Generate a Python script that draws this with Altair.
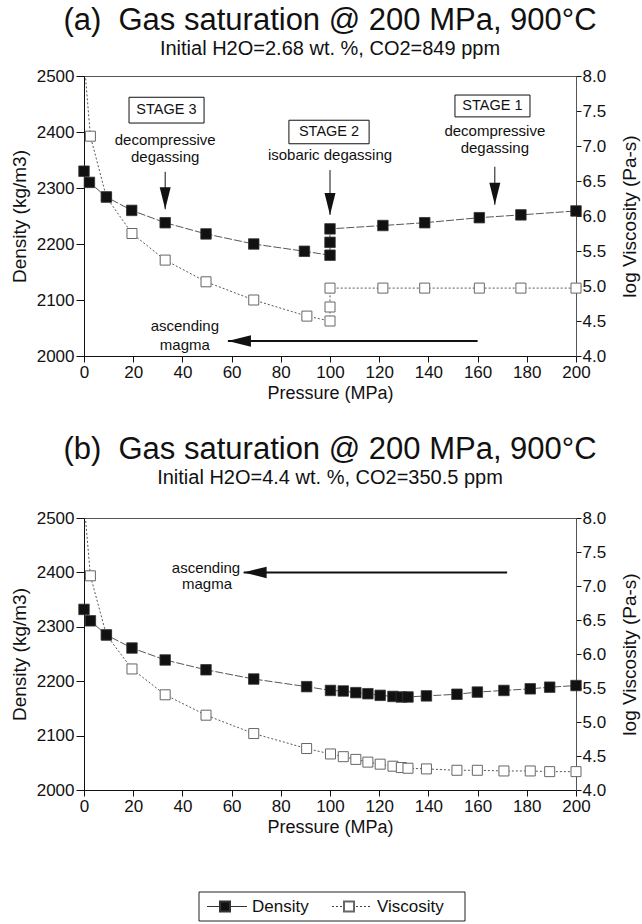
import altair as alt
import pandas as pd

FONT = "Liberation Sans"
INK = "#111111"

# ---------------- data: panel (a) ----------------
a_den_p = [0, 2.2, 9.1, 19.4, 33, 49.6, 69, 89.6, 100, 100, 100, 121.5, 138.5, 160.7, 177.6, 200]
a_den = [2330, 2310, 2284, 2260, 2238, 2218, 2200, 2187, 2180, 2203, 2227, 2233, 2238, 2247, 2252, 2259]
a_vis_p = [0, 2.6, 9.1, 19.5, 33, 49.6, 69, 90.6, 100, 100, 100, 121.5, 138.5, 160.7, 177.6, 200]
a_vis = [8.25, 7.14, 6.27, 5.75, 5.37, 5.06, 4.80, 4.57, 4.50, 4.70, 4.97, 4.97, 4.97, 4.97, 4.97, 4.97]

# ---------------- data: panel (b) ----------------
b_den_p = [0, 2.6, 9.1, 19.5, 33, 49.6, 69, 90.5, 100.2, 105.4, 110.5, 115.4, 120.4, 125.6,
           129, 131.7, 139.2, 151.6, 159.9, 170.7, 181.4, 189.3, 200]
b_den = [2332, 2311, 2285, 2261, 2239, 2221, 2204, 2190, 2183, 2182, 2179, 2177, 2174, 2172,
         2171, 2171, 2173, 2176, 2180, 2183, 2186, 2189, 2192]
b_vis_p = [0, 2.6, 9.1, 19.5, 33, 49.6, 69, 90.5, 100.2, 105.4, 110.5, 115.4, 120.4, 125.6,
           129, 131.7, 139.2, 151.6, 159.9, 170.7, 181.4, 189.3, 200]
b_vis = [8.25, 7.15, 6.28, 5.78, 5.40, 5.10, 4.83, 4.61, 4.53, 4.49, 4.45, 4.41, 4.38, 4.35,
         4.33, 4.32, 4.31, 4.29, 4.29, 4.28, 4.28, 4.27, 4.27]

# ---------------- annotations (in pressure / density units) ----------------
a_boxes = {"text": ["STAGE 3", "STAGE 2", "STAGE 1"],
           "P": [18.3, 83.3, 150.8], "P2": [48.8, 115.9, 181.3],
           "y": [2416, 2379, 2427], "y2": [2462, 2421, 2466],
           "tx": [33.5, 99.6, 166], "ty": [2440, 2400, 2446]}
a_notes = {"text": ["decompressive", "degassing", "isobaric degassing", "decompressive", "degassing",
                    "ascending", "magma"],
           "P": [33, 33, 100, 167, 167, 41, 41],
           "y": [2386, 2355, 2359, 2402, 2371, 2054, 2020]}
a_down = {"P": [33, 100, 167], "y": [2329, 2332, 2338], "y2": [2262, 2252, 2270]}
a_left = {"P": [58.5], "P2": [160], "y": [2027]}

b_notes = {"text": ["ascending", "magma"], "P": [49.6, 50], "y": [2409, 2379]}
b_left = {"P": [64.9], "P2": [172], "y": [2400]}

# legend (pixel units inside a 492-wide strip)
leg_box = {"x": [115], "x2": [381], "y": [24], "y2": [53]}
leg_names = ["Density", "Viscosity"]
leg_line_x = [123, 248]
leg_line_x2 = [163, 288]
leg_sym_x = [141, 265]
leg_text_x = [168, 293]

W = 492
LEG_H = 54

xscale = alt.Scale(domain=[0, 200], nice=False, zero=False)
xaxis = alt.Axis(values=list(range(0, 201, 20)), title="Pressure (MPa)", grid=False,
                 tickSize=6, tickColor=INK, domainColor=INK, labelColor=INK, titleColor=INK,
                 labelFontSize=17, titleFontSize=18, labelPadding=2, titlePadding=4,
                 titleFontWeight="normal", labelFlush=False, labelOverlap=False)
ydaxis = alt.Axis(values=[2000, 2100, 2200, 2300, 2400, 2500], format="d", title="Density (kg/m3)",
                  orient="left", grid=False, tickSize=8, tickColor=INK, domainColor=INK,
                  labelColor=INK, titleColor=INK, labelFontSize=17, titleFontSize=19,
                  labelPadding=2, titlePadding=7, titleFontWeight="normal")
yvaxis = alt.Axis(values=[4.0, 4.5, 5.0, 5.5, 6.0, 6.5, 7.0, 7.5, 8.0], format=".1f",
                  title="log Viscosity (Pa-s)", orient="right", grid=False, tickSize=5,
                  tickColor=INK, domainColor="#555", labelColor=INK, titleColor=INK,
                  labelFontSize=17, titleFontSize=19, labelPadding=1, titlePadding=15,
                  titleAngle=270, titleBaseline="top", titleFontWeight="normal")

X = alt.X("P:Q", scale=xscale, axis=xaxis)
X2 = alt.X2("P2:Q")
YD = alt.Y("y:Q", scale=alt.Scale(domain=[2000, 2500], nice=False, zero=False), axis=ydaxis)
Y2 = alt.Y2("y2:Q")
YV = alt.Y("y:Q", scale=alt.Scale(domain=[4, 8], nice=False, zero=False), axis=yvaxis)

DOWN = "M-0.5,-1L0.5,-1L0,1Z"
LEFT = "M1,-0.5L1,0.5L-1,0Z"


def panel(den_p, den, vis_p, vis, title, subtitle, height, toff, boxes, notes, downs, lefts):
    den_df = pd.DataFrame({"P": den_p, "y": den, "i": list(range(len(den_p)))})
    vis_df = pd.DataFrame({"P": vis_p, "y": vis, "i": list(range(len(vis_p)))})

    vis_line = alt.Chart(vis_df).mark_line(clip=True, color="#444", strokeWidth=0.9,
                                           strokeDash=[2, 2]).encode(x=X, y=YV, order="i:Q")
    vis_pts = alt.Chart(vis_df).transform_filter("datum.y <= 8").mark_square(
        size=100, fill="white", stroke="#666", strokeWidth=1, opacity=1).encode(x=X, y=YV)

    den_line = alt.Chart(den_df).mark_line(color="#444", strokeWidth=0.9,
                                           strokeDash=[8, 2]).encode(x=X, y=YD, order="i:Q")
    den_pts = alt.Chart(den_df).mark_square(size=110, fill=INK, stroke="#333",
                                            strokeWidth=0.8, opacity=1).encode(x=X, y=YD)
    dlayers = [den_line, den_pts]

    if boxes is not None:
        bdf = pd.DataFrame(boxes)
        dlayers.append(alt.Chart(bdf).mark_rect(fill="white", stroke=INK, strokeWidth=1)
                       .encode(x=X, x2=X2, y=YD, y2=Y2))
        tdf = pd.DataFrame({"P": boxes["tx"], "y": boxes["ty"], "text": boxes["text"]})
        dlayers.append(alt.Chart(tdf).mark_text(fontSize=14.5, color=INK, baseline="middle")
                       .encode(x=X, y=YD, text="text:N"))
    ndf = pd.DataFrame(notes)
    dlayers.append(alt.Chart(ndf).mark_text(fontSize=15, color=INK, baseline="middle")
                   .encode(x=X, y=YD, text="text:N"))
    if downs is not None:
        ddf = pd.DataFrame(downs)
        dlayers.append(alt.Chart(ddf).mark_rule(color=INK, strokeWidth=1)
                       .encode(x=X, y=YD, y2=Y2))
        hdf = pd.DataFrame({"P": downs["P"], "y": downs["y2"]})
        dlayers.append(alt.Chart(hdf).mark_point(shape=DOWN, size=484, filled=True, color=INK,
                                                 opacity=1, yOffset=-11).encode(x=X, y=YD))
    ldf = pd.DataFrame(lefts)
    dlayers.append(alt.Chart(ldf).mark_rule(color=INK, strokeWidth=2)
                   .encode(x=X, x2=X2, y=YD))
    dlayers.append(alt.Chart(ldf).mark_point(shape=LEFT, size=529, filled=True, color=INK,
                                             opacity=1, xOffset=11.5).encode(x=X, y=YD))

    return alt.layer(alt.layer(vis_line, vis_pts), alt.layer(*dlayers)).resolve_scale(
        y="independent").properties(
        width=W, height=height,
        title=alt.TitleParams(text=title, subtitle=subtitle, fontSize=31, subtitleFontSize=20,
                              fontWeight="normal", anchor="middle", frame="group",
                              offset=toff, subtitlePadding=2, color=INK, subtitleColor=INK))


pa = panel(a_den_p, a_den, a_vis_p, a_vis, "(a)\u00a0 Gas saturation @ 200 MPa, 900°C",
           "Initial H2O=2.68 wt. %, CO2=849 ppm", 280, 7, a_boxes, a_notes, a_down, a_left)
pb = panel(b_den_p, b_den, b_vis_p, b_vis, "(b)\u00a0 Gas saturation @ 200 MPa, 900°C",
           "Initial H2O=4.4 wt. %, CO2=350.5 ppm", 272, 20, None, b_notes, None, b_left)

# legend strip
lscale_x = alt.Scale(domain=[0, W], nice=False, zero=False)
lscale_y = alt.Scale(domain=[LEG_H, 0], nice=False, zero=False)
LX = alt.X("x:Q", scale=lscale_x, axis=None)
LY = alt.Y("y:Q", scale=lscale_y, axis=None)
mid = (leg_box["y"][0] + leg_box["y2"][0]) / 2
lbox = alt.Chart(pd.DataFrame(leg_box)).mark_rect(fill="white", stroke="#222", strokeWidth=1).encode(
    x=LX, x2=alt.X2("x2:Q"), y=LY, y2=alt.Y2("y2:Q"))
ld = pd.DataFrame({"name": leg_names, "x": leg_line_x, "x2": leg_line_x2, "y": [mid, mid],
                   "sx": leg_sym_x, "tx": leg_text_x})
l1 = alt.Chart(ld.iloc[[0]]).mark_rule(color="#333", strokeWidth=1).encode(
    x=LX, x2=alt.X2("x2:Q"), y=LY)
l2 = alt.Chart(ld.iloc[[1]]).mark_rule(color="#444", strokeWidth=1, strokeDash=[2, 2]).encode(
    x=LX, x2=alt.X2("x2:Q"), y=LY)
s1 = alt.Chart(ld.iloc[[0]]).mark_square(size=100, fill=INK, stroke="#333", opacity=1).encode(
    x=alt.X("sx:Q", scale=lscale_x, axis=None), y=LY)
s2 = alt.Chart(ld.iloc[[1]]).mark_square(size=100, fill="white", stroke="#666", opacity=1).encode(
    x=alt.X("sx:Q", scale=lscale_x, axis=None), y=LY)
lt = alt.Chart(ld).mark_text(fontSize=17, color=INK, align="left", baseline="middle").encode(
    x=alt.X("tx:Q", scale=lscale_x, axis=None), y=LY, text="name:N")
legend = alt.layer(lbox, l1, l2, s1, s2, lt).properties(
    width=W, height=LEG_H, view=alt.ViewBackground(stroke="transparent"))

chart = alt.vconcat(pa, pb, legend, spacing=30).properties(
    padding={"left": 9, "top": 4, "right": 1, "bottom": 0}, background="white"
).configure(font=FONT).configure_view(stroke="#555", strokeWidth=1)

chart.save("out.html", embed_options={"renderer": "svg", "actions": False})
